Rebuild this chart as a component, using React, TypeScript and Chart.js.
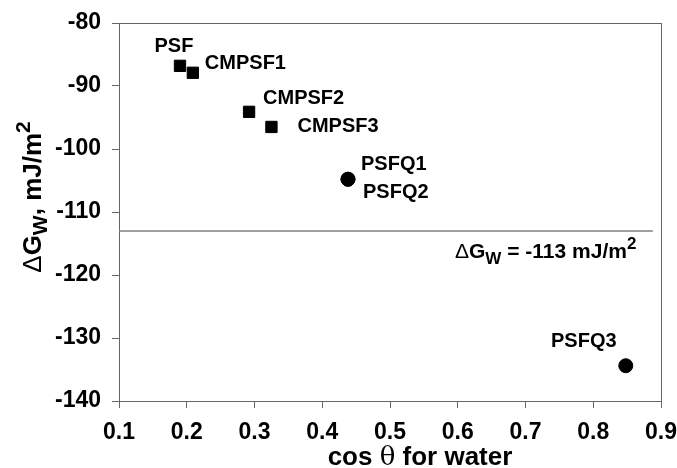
import React, { useEffect, useRef } from "react";
import { Chart, registerables } from "chart.js";

Chart.register(...registerables);

// ---- data ----
const squareNames = ["PSF", "CMPSF1", "CMPSF2", "CMPSF3"];
const squareX = [0.19, 0.209, 0.292, 0.325];
const squareY = [-86.8, -87.9, -94.1, -96.5];

const circleNames = ["PSFQ1", "PSFQ2", "PSFQ3"];
const circleX = [0.438, 0.438, 0.848];
const circleY = [-104.8, -104.8, -134.4];

const thresholdX = [0.1, 0.888];
const thresholdY = [-113, -113];
const thresholdValue = -113;

const xMin = 0.1;
const xMax = 0.9;
const xStep = 0.1;
const yMin = -140;
const yMax = -80;
const yStep = 10;

// ---- styles (label offsets in px relative to the point) ----
const squareLabelOffsets: [number, number, string][] = [
  [-6, -19, "center"],
  [12, -9, "left"],
  [14, -13, "left"],
  [26, 0, "left"],
];
const circleLabelOffsets: [number, number, string][] = [
  [13, -15, "left"],
  [15, 13, "left"],
  [-42, -24, "center"],
];

const FONT = '"Liberation Sans", Arial, sans-serif';

type Seg = { t: string; size: number; dy?: number; family?: string; weight?: string };

function drawRich(ctx: CanvasRenderingContext2D, segs: Seg[], x: number, y: number, align: string) {
  let total = 0;
  const widths: number[] = [];
  for (const s of segs) {
    ctx.font = `${s.weight ?? "bold"} ${s.size}px ${s.family ?? FONT}`;
    const w = ctx.measureText(s.t).width;
    widths.push(w);
    total += w;
  }
  let cx = x;
  if (align === "center") cx = x - total / 2;
  else if (align === "right") cx = x - total;
  segs.forEach((s, i) => {
    ctx.font = `${s.weight ?? "bold"} ${s.size}px ${s.family ?? FONT}`;
    ctx.textAlign = "left";
    ctx.fillText(s.t, cx, y + (s.dy ?? 0));
    cx += widths[i];
  });
}

const textPlugin = {
  id: "textPlugin",
  beforeDatasetsDraw(chart: any) {
    const { ctx, chartArea } = chart;
    ctx.save();
    ctx.strokeStyle = "#666";
    ctx.lineWidth = 1;
    ctx.strokeRect(chartArea.left + 0.5, chartArea.top + 0.5, chartArea.right - chartArea.left, chartArea.bottom - chartArea.top);
    ctx.restore();
  },
  afterDraw(chart: any) {
    const { ctx, scales } = chart;
    const xs = scales.x;
    const ys = scales.y;
    ctx.save();
    ctx.fillStyle = "#000";
    ctx.textBaseline = "middle";
    // point labels
    squareNames.forEach((n, i) => {
      const px = xs.getPixelForValue(squareX[i]);
      const py = ys.getPixelForValue(squareY[i]);
      const [dx, dy, al] = squareLabelOffsets[i];
      drawRich(ctx, [{ t: n, size: 20 }], px + dx, py + dy, al);
    });
    circleNames.forEach((n, i) => {
      const px = xs.getPixelForValue(circleX[i]);
      const py = ys.getPixelForValue(circleY[i]);
      const [dx, dy, al] = circleLabelOffsets[i];
      drawRich(ctx, [{ t: n, size: 20 }], px + dx, py + dy, al);
    });
    // threshold annotation
    ctx.textBaseline = "alphabetic";
    const ay = ys.getPixelForValue(thresholdValue) + 27;
    drawRich(
      ctx,
      [
        { t: "Δ", size: 21, weight: "normal" },
        { t: "G", size: 21 },
        { t: "W", size: 17, dy: 6 },
        { t: " = " + thresholdValue + " mJ/m", size: 21 },
        { t: "2", size: 17, dy: -9 },
      ],
      455,
      ay,
      "left"
    );
    // x axis title
    drawRich(
      ctx,
      [
        { t: "cos ", size: 26 },
        { t: "θ", size: 26, weight: "normal", family: '"DejaVu Serif", serif' },
        { t: " for water", size: 26 },
      ],
      420,
      465,
      "center"
    );
    // y axis title
    ctx.translate(41, 197);
    ctx.rotate(-Math.PI / 2);
    drawRich(
      ctx,
      [
        { t: "Δ", size: 26, weight: "normal" },
        { t: "G", size: 26 },
        { t: "W", size: 21, dy: 6 },
        { t: ", mJ/m", size: 26 },
        { t: "2", size: 21, dy: -11 },
      ],
      0,
      0,
      "center"
    );
    ctx.restore();
  },
};

export default function App() {
  const ref = useRef<HTMLCanvasElement>(null);
  useEffect(() => {
    if (!ref.current) return;
    const chart = new Chart(ref.current, {
      type: "scatter",
      data: {
        datasets: [
          {
            label: "threshold",
            data: thresholdX.map((x, i) => ({ x, y: thresholdY[i] })),
            showLine: true,
            borderColor: "#808080",
            borderWidth: 1.5,
            pointRadius: 0,
            pointHoverRadius: 0,
          },
          {
            label: "CMPSF",
            data: squareX.map((x, i) => ({ x, y: squareY[i] })),
            pointStyle: "rect",
            pointRadius: 8,
            backgroundColor: "#000",
            borderColor: "#000",
            borderWidth: 1,
          },
          {
            label: "PSFQ",
            data: circleX.map((x, i) => ({ x, y: circleY[i] })),
            pointStyle: "circle",
            pointRadius: 7,
            backgroundColor: "#000",
            borderColor: "#000",
            borderWidth: 1,
          },
        ],
      },
      options: {
        responsive: false,
        animation: false,
        layout: { padding: { top: 23, right: 16, left: 0, bottom: 0 } },
        plugins: { legend: { display: false }, tooltip: { enabled: false } },
        scales: {
          x: {
            type: "linear",
            min: xMin,
            max: xMax,
            ticks: {
              stepSize: xStep,
              color: "#000",
              font: { family: FONT, size: 23, weight: "bold" },
              padding: 11,
              callback: (v: any) => Number(v).toFixed(1),
            },
            grid: { drawOnChartArea: false, tickLength: 7, color: "#666", tickColor: "#666" },
            border: { color: "#666" },
            afterFit: (s: any) => {
              s.height = 67;
              s.paddingLeft = 0;
              s.paddingRight = 0;
            },
          },
          y: {
            type: "linear",
            min: yMin,
            max: yMax,
            ticks: {
              stepSize: yStep,
              color: "#000",
              font: { family: FONT, size: 23, weight: "bold" },
              padding: 11,
            },
            grid: { drawOnChartArea: false, tickLength: 7, color: "#666", tickColor: "#666" },
            border: { color: "#666" },
            afterFit: (s: any) => {
              s.width = 119;
              s.paddingTop = 0;
              s.paddingBottom = 0;
            },
          },
        },
      },
      plugins: [textPlugin],
    });
    return () => chart.destroy();
  }, []);
  return (
    <div style={{ position: "fixed", left: 0, top: 0, width: 677, height: 468, background: "#fff" }}>
      <canvas ref={ref} width={677} height={468} style={{ width: 677, height: 468 }} />
    </div>
  );
}
